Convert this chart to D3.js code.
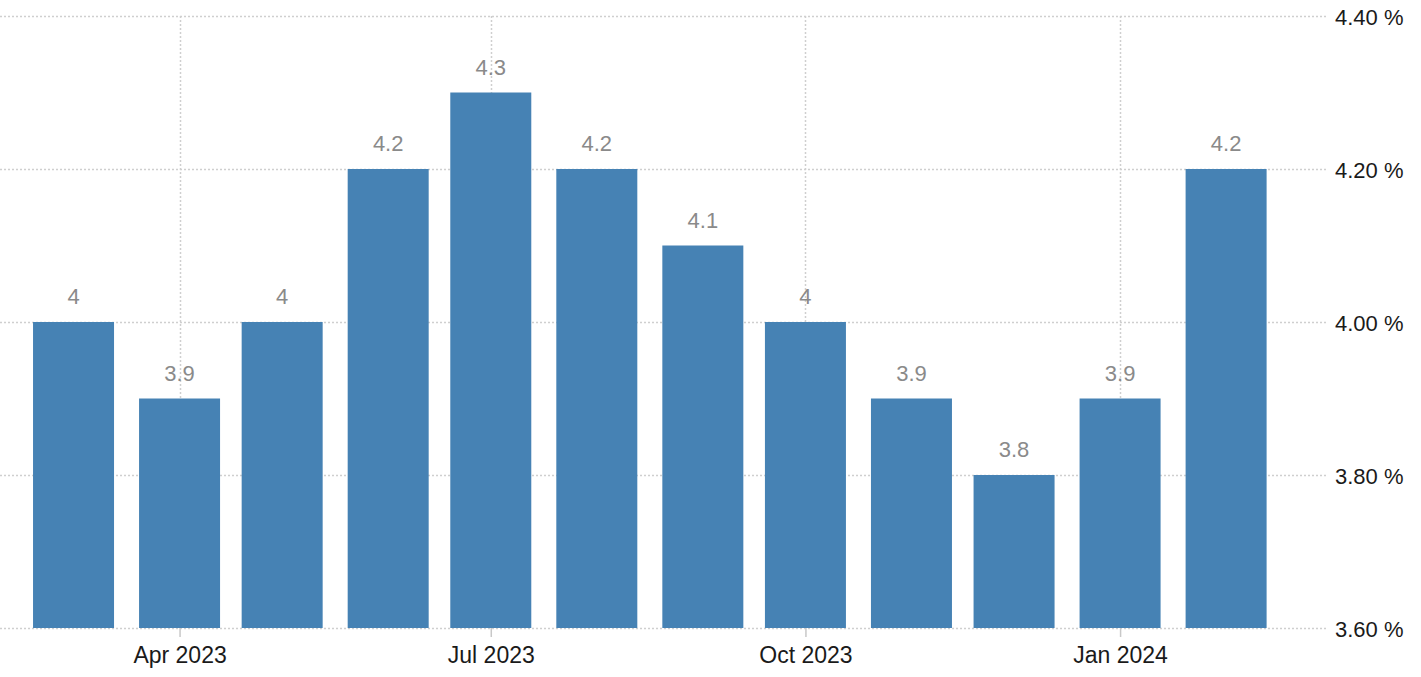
<!DOCTYPE html>
<html>
<head>
<meta charset="utf-8">
<script src="https://cdn.jsdelivr.net/npm/d3@7"></script>
<style>
  html, body { margin: 0; padding: 0; background: #fff; }
  svg { display: block; }
</style>
</head>
<body>
<svg id="chart" width="1421" height="677"></svg>
<script>
// Data
const months = ["2023-03","2023-04","2023-05","2023-06","2023-07","2023-08","2023-09","2023-10","2023-11","2023-12","2024-01","2024-02"];
const values = [4, 3.9, 4, 4.2, 4.3, 4.2, 4.1, 4, 3.9, 3.8, 3.9, 4.2];
const yTicks = [3.6, 3.8, 4.0, 4.2, 4.4];
const xTickDates = ["2023-04","2023-07","2023-10","2024-01"];

const parseMonth = d3.timeParse("%Y-%m");
const dates = months.map(parseMonth);

const svg = d3.select("#chart");
const plotLeft = 0, plotRight = 1327, plotTop = 16, plotBottom = 628;

const x = d3.scaleTime()
  .domain([new Date(2023, 1, 7, 12), new Date(2024, 2, 1, 12)])
  .range([plotLeft, plotRight]);

const y = d3.scaleLinear()
  .domain([3.6, 4.4])
  .range([plotBottom, plotTop]);

const gridColor = "#cfcfcf";
const fontFam = "'Liberation Sans', Arial, sans-serif";

// Horizontal gridlines
svg.append("g").selectAll("line").data(yTicks).join("line")
  .attr("x1", plotLeft).attr("x2", plotRight)
  .attr("y1", d => Math.round(y(d)) + 0.5).attr("y2", d => Math.round(y(d)) + 0.5)
  .attr("stroke", gridColor).attr("stroke-width", 1.5)
  .attr("stroke-dasharray", "2,2");

// Vertical gridlines
const xTicks = xTickDates.map(parseMonth);
svg.append("g").selectAll("line").data(xTicks).join("line")
  .attr("x1", d => Math.round(x(d)) + 0.5).attr("x2", d => Math.round(x(d)) + 0.5)
  .attr("y1", plotTop).attr("y2", plotBottom)
  .attr("stroke", gridColor).attr("stroke-width", 1.5)
  .attr("stroke-dasharray", "2,2");

// Bars
const barW = 81;
svg.append("g").selectAll("rect").data(values).join("rect")
  .attr("x", (d, i) => x(dates[i]) - barW / 2)
  .attr("width", barW)
  .attr("y", d => y(d))
  .attr("height", d => y(3.6) - y(d))
  .attr("fill", "#4682b4");

// Value labels
svg.append("g").selectAll("text").data(values).join("text")
  .attr("x", (d, i) => x(dates[i]))
  .attr("y", d => y(d) - 18)
  .attr("text-anchor", "middle")
  .attr("font-family", fontFam)
  .attr("font-size", 22)
  .attr("fill", "#8a8a8a")
  .text(d => d3.format("")(d));

// X axis
const xAxis = d3.axisBottom(x)
  .tickValues(xTicks)
  .tickFormat(d3.timeFormat("%b %Y"))
  .tickSize(9)
  .tickPadding(10);
const gx = svg.append("g").attr("transform", `translate(0,${plotBottom})`).call(xAxis);
gx.select(".domain").remove();
gx.selectAll(".tick line").attr("stroke", "#c8c8c8").attr("stroke-width", 1.5);
gx.selectAll(".tick text")
  .attr("font-family", fontFam).attr("font-size", 23).attr("fill", "#1a1a1a");

// Y axis (right)
const yAxis = d3.axisRight(y)
  .tickValues(yTicks)
  .tickFormat(d => d3.format(".2f")(d) + " %")
  .tickSize(0)
  .tickPadding(0);
const gy = svg.append("g").attr("transform", `translate(${plotRight + 8},1)`).call(yAxis);
gy.select(".domain").remove();
gy.selectAll(".tick text")
  .attr("font-family", fontFam).attr("font-size", 22).attr("fill", "#1a1a1a");
</script>
</body>
</html>
